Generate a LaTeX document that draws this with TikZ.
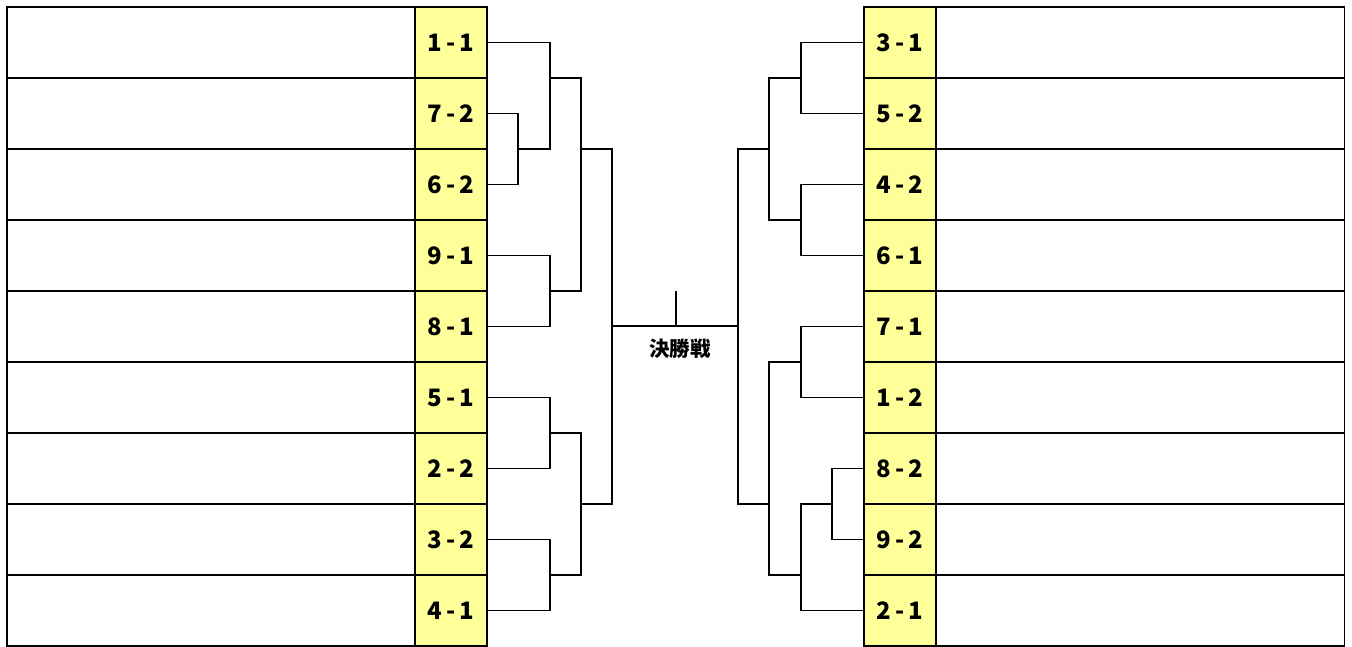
\documentclass[tikz,border=0pt]{standalone}
\usepackage{fontspec}
\newfontfamily\jp{Noto Sans CJK JP}
\newfontfamily\jpwide{Noto Sans CJK JP}[LetterSpace=16]
\definecolor{seedyellow}{RGB}{255,255,153}
\tikzset{
  seed/.style={draw, line width=1.4pt, fill=seedyellow, minimum width=72pt, minimum height=71pt, inner sep=0pt, font=\jpwide\bfseries\fontsize{24}{24}\selectfont},
  namecell/.style={draw, line width=1.4pt, minimum width=408pt, minimum height=71pt, inner sep=0pt},
  bracket/.style={line width=1.4pt},
}
\begin{document}
\begin{tikzpicture}[x=1pt,y=-1pt]
\useasboundingbox (0,0) rectangle (1352,646);
% left table
\foreach \i/\lab in {1/1-1,2/7-2,3/6-2,4/9-1,5/8-1,6/5-1,7/2-2,8/3-2,9/4-1}{
  \node[namecell] (LN\i) at (211,{7+71*(\i-1)+35.5}) {};
  \node[seed] (L\i) at (451,{7+71*(\i-1)+35.5}) {\lab};
}
% right table
\foreach \i/\lab in {1/3-1,2/5-2,3/4-2,4/6-1,5/7-1,6/1-2,7/8-2,8/9-2,9/2-1}{
  \node[namecell] (RN\i) at (1140.5,{7+71*(\i-1)+35.5}) {};
  \node[seed] (R\i) at (900,{7+71*(\i-1)+35.5}) {\lab};
}
% left bracket coordinates
\coordinate (la) at (518,149);
\coordinate (m1) at (550,78);
\coordinate (m2) at (550,291);
\coordinate (m3) at (581,149);
\coordinate (m4) at (550,433);
\coordinate (m5) at (550,575);
\coordinate (m6) at (581,504);
\coordinate (m7) at (612,326);
% right bracket coordinates
\coordinate (n1) at (801,78);
\coordinate (n2) at (801,220);
\coordinate (n3) at (769,149);
\coordinate (n4) at (801,362);
\coordinate (n5) at (832,504);
\coordinate (n6) at (801,575);
\coordinate (n7) at (769,504);
\coordinate (r7) at (738,326);
% final
\coordinate (ft) at (676,291);
\coordinate (fb) at (676,326);
\begin{scope}[bracket]
\draw (L2.east) -| (la) |- (L3.east);
\draw (L1.east) -| (m1);
\draw (la) -| (m1);
\draw (L4.east) -| (m2) |- (L5.east);
\draw (m1) -| (m3) |- (m2);
\draw (L6.east) -| (m4) |- (L7.east);
\draw (L8.east) -| (m5) |- (L9.east);
\draw (m4) -| (m6) |- (m5);
\draw (m3) -| (m7) |- (m6);
\draw (m7) -- (r7);
\draw (ft) -- (fb);
\draw (R1.west) -| (n1) |- (R2.west);
\draw (R3.west) -| (n2) |- (R4.west);
\draw (n1) -| (n3) |- (n2);
\draw (R5.west) -| (n4) |- (R6.west);
\draw (R7.west) -| (n5) |- (R8.west);
\draw (n5) -| (n6) |- (R9.west);
\draw (n4) -| (n7) |- (n6);
\draw (n3) -| (r7) |- (n7);
\end{scope}
\node[font=\jp\bfseries\fontsize{20.5}{20.5}\selectfont] (final) at (680,349) {決勝戦};
\end{tikzpicture}
\end{document}
